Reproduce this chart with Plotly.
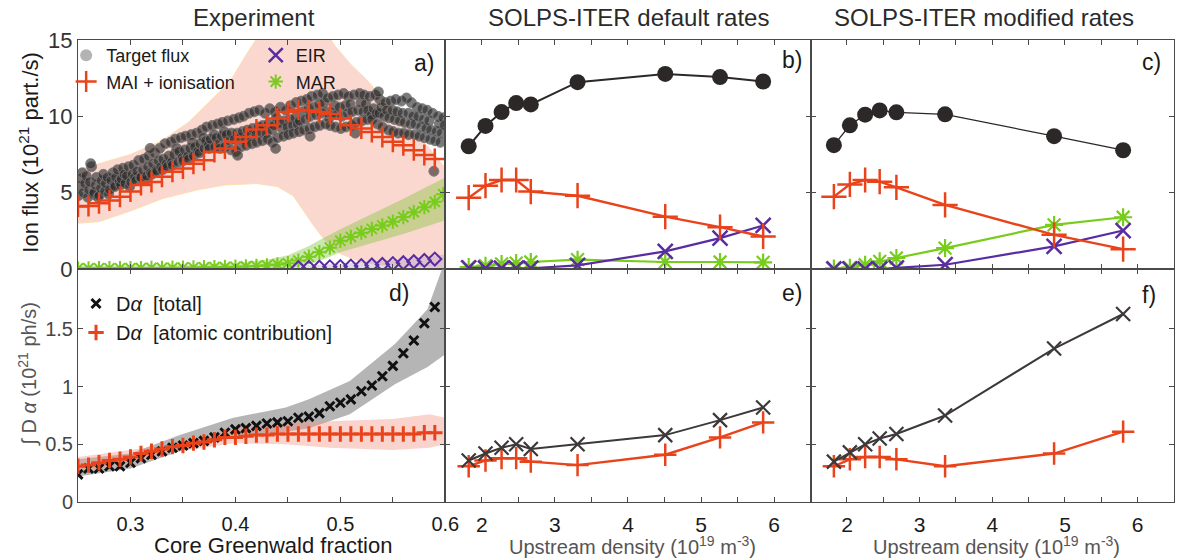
import plotly.graph_objects as go
from plotly.subplots import make_subplots

# ---------------- data ----------------
# Panel a (experiment, ion flux in 1e21 part/s) vs core Greenwald fraction
exp_x = [0.25, 0.26, 0.27, 0.28, 0.29, 0.30, 0.31, 0.32, 0.33, 0.34, 0.35, 0.36,
         0.37, 0.38, 0.39, 0.40, 0.41, 0.42, 0.43, 0.44, 0.45, 0.46, 0.47, 0.48,
         0.49, 0.50, 0.51, 0.52, 0.53, 0.54, 0.55, 0.56, 0.57, 0.58, 0.59]
mai_ion = [4.09, 4.13, 4.30, 4.48, 4.74, 5.07, 5.50, 5.70, 6.04, 6.37, 6.59, 6.90,
           7.13, 7.67, 7.90, 8.33, 8.65, 9.13, 9.41, 9.85, 10.28, 10.43, 10.39, 10.28,
           10.15, 9.85, 9.41, 9.20, 8.98, 8.65, 8.33, 8.10, 7.78, 7.46, 7.20]
mar_x = [0.25, 0.26, 0.27, 0.28, 0.29, 0.30, 0.31, 0.32, 0.33, 0.34, 0.35, 0.36,
         0.37, 0.38, 0.39, 0.40, 0.41, 0.42, 0.43, 0.44, 0.45, 0.46, 0.47, 0.48,
         0.49, 0.50, 0.51, 0.52, 0.53, 0.54, 0.55, 0.56, 0.57, 0.58, 0.59, 0.598]
mar_exp = [0.04, 0.04, 0.05, 0.05, 0.05, 0.06, 0.06, 0.07, 0.07, 0.08, 0.09, 0.10,
           0.11, 0.12, 0.13, 0.15, 0.17, 0.20, 0.24, 0.30, 0.38, 0.55, 0.80, 1.10,
           1.40, 1.85, 2.10, 2.38, 2.62, 2.85, 3.10, 3.40, 3.72, 4.05, 4.40, 4.90]
eir_x = [0.46, 0.47, 0.48, 0.49, 0.50, 0.51, 0.52, 0.53, 0.54, 0.55, 0.56, 0.57, 0.58, 0.59]
eir_exp = [0.08, 0.10, 0.12, 0.14, 0.16, 0.19, 0.22, 0.26, 0.30, 0.35, 0.41, 0.48, 0.56, 0.65]

# uncertainty bands, panel a
mai_band_up_x = [0.25, 0.27, 0.30, 0.33, 0.355, 0.37, 0.38, 0.395, 0.41, 0.425, 0.44,
                 0.46, 0.48, 0.495, 0.51, 0.525, 0.54, 0.555, 0.57, 0.585, 0.60]
mai_band_up = [6.5, 6.9, 7.5, 8.4, 9.6, 10.6, 11.3, 12.3, 14.0, 15.6, 16.5,
               16.8, 16.2, 14.6, 13.4, 12.4, 11.2, 10.2, 9.0, 7.9, 6.6]
mai_band_lo_x = [0.25, 0.27, 0.30, 0.33, 0.365, 0.39, 0.42, 0.44, 0.455, 0.465,
                 0.475, 0.485, 0.50, 0.52, 0.55, 0.60]
mai_band_lo = [3.0, 3.1, 3.8, 4.6, 5.2, 5.5, 5.6, 5.4, 4.8, 3.8,
               2.8, 1.9, 1.0, 0.45, 0.2, 0.1]
mar_band_x = [0.25, 0.35, 0.40, 0.43, 0.45, 0.47, 0.483, 0.50, 0.53, 0.56, 0.60]
mar_band_up = [0.20, 0.25, 0.40, 0.60, 0.90, 1.50, 2.00, 2.60, 3.60, 4.60, 6.00]
mar_band_lo = [0.00, 0.00, 0.00, 0.00, 0.05, 0.30, 0.60, 1.10, 1.70, 2.30, 3.20]
eir_band_x = [0.45, 0.50, 0.55, 0.60]
eir_band_up = [0.20, 0.35, 0.60, 0.95]
eir_band_lo = [0.0, 0.0, 0.0, 0.0]

# target flux (experimental scatter)
target_x = [
    0.2502, 0.2514, 0.2527, 0.2541, 0.2551, 0.2566, 0.2578, 0.2593, 0.2604, 0.2612, 0.2629, 0.2645,
    0.2653, 0.2668, 0.2676, 0.2690, 0.2701, 0.2717, 0.2724, 0.2741, 0.2756, 0.2763, 0.2779, 0.2792,
    0.2803, 0.2815, 0.2832, 0.2846, 0.2852, 0.2861, 0.2877, 0.2894, 0.2907, 0.2913, 0.2928, 0.2940,
    0.2950, 0.2964, 0.2981, 0.2993, 0.3004, 0.3019, 0.3026, 0.3042, 0.3053, 0.3062, 0.3078, 0.3091,
    0.3101, 0.3118, 0.3127, 0.3143, 0.3155, 0.3166, 0.3174, 0.3192, 0.3203, 0.3214, 0.3231, 0.3245,
    0.3252, 0.3267, 0.3279, 0.3290, 0.3306, 0.3311, 0.3328, 0.3344, 0.3351, 0.3365, 0.3382, 0.3393,
    0.3400, 0.3416, 0.3425, 0.3441, 0.3457, 0.3463, 0.3479, 0.3494, 0.3502, 0.3517, 0.3523, 0.3546,
    0.3554, 0.3568, 0.3577, 0.3591, 0.3601, 0.3613, 0.3629, 0.3642, 0.3656, 0.3664, 0.3681, 0.3695,
    0.3703, 0.3719, 0.3725, 0.3743, 0.3751, 0.3762, 0.3778, 0.3796, 0.3805, 0.3818, 0.3830, 0.3841,
    0.3853, 0.3869, 0.3874, 0.3892, 0.3900, 0.3915, 0.3927, 0.3944, 0.3958, 0.3961, 0.3983, 0.3990,
    0.4004, 0.4016, 0.4032, 0.4045, 0.4051, 0.4068, 0.4076, 0.4093, 0.4102, 0.4114, 0.4129, 0.4140,
    0.4155, 0.4163, 0.4178, 0.4197, 0.4201, 0.4219, 0.4226, 0.4242, 0.4254, 0.4260, 0.4281, 0.4293,
    0.4306, 0.4313, 0.4327, 0.4348, 0.4352, 0.4367, 0.4375, 0.4391, 0.4400, 0.4418, 0.4429, 0.4446,
    0.4457, 0.4462, 0.4480, 0.4494, 0.4503, 0.4515, 0.4524, 0.4547, 0.4551, 0.4569, 0.4577, 0.4590,
    0.4606, 0.4611, 0.4628, 0.4643, 0.4652, 0.4667, 0.4679, 0.4695, 0.4705, 0.4712, 0.4726, 0.4741,
    0.4753, 0.4768, 0.4781, 0.4797, 0.4802, 0.4817, 0.4830, 0.4844, 0.4856, 0.4863, 0.4879, 0.4892,
    0.4901, 0.4916, 0.4928, 0.4945, 0.4953, 0.4965, 0.4977, 0.4991, 0.5004, 0.5013, 0.5031, 0.5046,
    0.5052, 0.5068, 0.5074, 0.5093, 0.5107, 0.5111, 0.5129, 0.5142, 0.5150, 0.5166, 0.5183, 0.5195,
    0.5203, 0.5218, 0.5225, 0.5240, 0.5256, 0.5262, 0.5278, 0.5297, 0.5301, 0.5315, 0.5332, 0.5344,
    0.5353, 0.5369, 0.5376, 0.5390, 0.5400, 0.5417, 0.5428, 0.5443, 0.5458, 0.5464, 0.5479, 0.5496,
    0.5502, 0.5516, 0.5527, 0.5541, 0.5551, 0.5565, 0.5582, 0.5590, 0.5604, 0.5612, 0.5630, 0.5647,
    0.5650, 0.5668, 0.5676, 0.5693, 0.5707, 0.5713, 0.5729, 0.5742, 0.5752, 0.5767, 0.5780, 0.5794,
    0.5801, 0.5818, 0.5826, 0.5845, 0.5855, 0.5862, 0.5877, 0.5891, 0.5902, 0.5916, 0.5929, 0.5943,
    0.5953, 0.5964, 0.5981, 0.5992, 0.2621, 0.4383, 0.4021, 0.3188, 0.5362, 0.4712,
]
target_y = [
    4.8, 5.4, 5.9, 6.3, 5.0, 5.6, 6.1, 4.7, 5.2, 5.7, 6.7, 4.9,
    5.0, 5.5, 6.0, 4.7, 4.8, 5.3, 5.8, 6.2, 5.1, 5.6, 6.0, 4.9,
    5.2, 5.8, 6.3, 5.5, 5.4, 6.0, 6.5, 5.7, 5.5, 5.9, 6.6, 6.2,
    5.6, 6.1, 6.7, 5.4, 5.7, 6.2, 6.8, 6.0, 5.8, 6.4, 7.1, 6.0,
    6.0, 6.5, 7.2, 5.8, 6.1, 6.7, 7.4, 6.3, 6.2, 6.9, 7.6, 6.5,
    6.4, 7.1, 7.9, 6.7, 6.5, 7.2, 8.2, 6.9, 6.7, 7.4, 8.3, 7.0,
    6.8, 7.5, 8.5, 7.9, 7.0, 7.7, 8.6, 7.3, 7.1, 7.8, 8.7, 7.4,
    7.2, 7.9, 8.8, 8.3, 7.4, 8.0, 8.9, 7.7, 7.6, 8.2, 9.1, 8.6,
    7.9, 8.4, 9.3, 8.1, 7.9, 8.5, 9.4, 8.8, 8.0, 8.6, 9.5, 8.2,
    7.9, 8.7, 9.6, 9.0, 8.0, 8.8, 9.7, 8.4, 7.8, 8.9, 9.8, 8.5,
    7.7, 8.9, 9.9, 8.6, 8.0, 9.0, 10.0, 8.5, 8.1, 9.1, 10.2, 8.7,
    8.2, 9.2, 10.3, 8.8, 8.3, 9.3, 10.4, 9.0, 8.4, 9.4, 10.2, 8.9,
    8.5, 9.5, 10.5, 9.1, 8.3, 9.4, 10.3, 9.9, 8.6, 9.6, 10.6, 9.2,
    8.7, 9.7, 10.4, 9.3, 8.8, 9.8, 10.7, 9.4, 8.9, 9.9, 10.9, 9.5,
    9.0, 9.7, 11.0, 10.3, 9.1, 9.8, 11.1, 10.5, 9.2, 10.0, 11.3, 10.6,
    9.3, 10.1, 11.4, 10.8, 9.4, 10.2, 11.5, 10.9, 9.5, 10.3, 11.2, 9.9,
    9.4, 10.2, 11.3, 10.7, 9.3, 10.1, 11.4, 10.6, 9.2, 10.0, 11.5, 10.7,
    9.3, 10.2, 11.3, 10.8, 9.4, 10.3, 11.4, 8.9, 9.6, 10.4, 11.5, 10.9,
    9.7, 10.3, 11.4, 10.8, 9.8, 10.4, 11.3, 10.1, 9.8, 10.5, 11.4, 10.2,
    9.5, 10.2, 11.1, 10.6, 9.3, 10.0, 10.9, 10.4, 9.1, 9.9, 11.0, 10.4,
    9.0, 9.8, 11.1, 10.3, 8.9, 9.7, 11.0, 10.2, 8.9, 9.6, 11.2, 10.2,
    8.8, 9.5, 10.9, 10.0, 8.8, 9.5, 10.6, 10.0, 8.7, 9.3, 10.5, 9.8,
    8.6, 9.2, 10.4, 9.7, 8.5, 9.1, 10.2, 6.4, 8.4, 9.0, 10.0, 9.5,
    8.3, 8.9, 9.9, 9.4, 6.9, 7.9, 7.45, 7.9, 11.6, 8.7,
]

# Panel d (experiment, integrated D-alpha in 1e21 ph/s)
da_total = [0.24, 0.29, 0.29, 0.31, 0.31, 0.34, 0.38, 0.41, 0.44, 0.47, 0.49, 0.51,
            0.53, 0.56, 0.60, 0.63, 0.64, 0.66, 0.68, 0.69, 0.70, 0.73, 0.74, 0.77,
            0.83, 0.86, 0.89, 0.96, 1.01, 1.09, 1.18, 1.29, 1.40, 1.55, 1.69]
da_atomic = [0.31, 0.32, 0.34, 0.36, 0.37, 0.39, 0.42, 0.44, 0.46, 0.48, 0.49, 0.51,
             0.52, 0.54, 0.56, 0.56, 0.57, 0.58, 0.58, 0.59, 0.59, 0.59, 0.59, 0.59,
             0.59, 0.59, 0.59, 0.59, 0.59, 0.59, 0.59, 0.59, 0.59, 0.60, 0.60]
da_total_band_x = [0.25, 0.30, 0.347, 0.398, 0.448, 0.47, 0.509, 0.552, 0.583, 0.60]
da_total_band_up = [0.37, 0.42, 0.58, 0.73, 0.82, 0.89, 1.05, 1.37, 1.67, 2.10]
da_total_band_lo = [0.22, 0.29, 0.44, 0.56, 0.61, 0.64, 0.76, 1.02, 1.17, 1.28]
da_atom_band_x = [0.25, 0.347, 0.398, 0.448, 0.49, 0.55, 0.585, 0.60]
da_atom_band_up = [0.39, 0.51, 0.64, 0.69, 0.70, 0.72, 0.76, 0.73]
da_atom_band_lo = [0.26, 0.44, 0.51, 0.50, 0.47, 0.45, 0.47, 0.50]

# Panels b / e (SOLPS-ITER default rates) vs upstream density (1e19 m^-3)
def_ne = [1.82, 2.05, 2.27, 2.47, 2.67, 3.31, 4.51, 5.26, 5.85]
def_target = [8.04, 9.37, 10.28, 10.87, 10.78, 12.24, 12.78, 12.57, 12.28]
def_mai = [4.67, 5.46, 5.83, 5.83, 5.07, 4.80, 3.43, 2.74, 2.13]
def_eir = [0.07, 0.05, 0.05, 0.05, 0.05, 0.24, 1.15, 2.02, 2.85]
def_mar = [0.13, 0.22, 0.33, 0.39, 0.46, 0.61, 0.46, 0.46, 0.43]
def_da_total = [0.36, 0.42, 0.47, 0.50, 0.46, 0.50, 0.58, 0.71, 0.82]
def_da_atomic = [0.31, 0.36, 0.38, 0.38, 0.35, 0.32, 0.41, 0.56, 0.69]

# Panels c / f (SOLPS-ITER modified rates)
mod_ne = [1.82, 2.04, 2.25, 2.45, 2.68, 3.35, 4.85, 5.80]
mod_target = [8.11, 9.41, 10.11, 10.39, 10.26, 10.13, 8.70, 7.78]
mod_mai = [4.74, 5.54, 5.83, 5.72, 5.35, 4.20, 2.24, 1.30]
mod_eir = [0.00, 0.00, 0.00, 0.00, 0.07, 0.28, 1.48, 2.52]
mod_mar = [0.04, 0.09, 0.28, 0.50, 0.72, 1.37, 2.89, 3.39]
mod_da_total = [0.35, 0.43, 0.50, 0.55, 0.59, 0.75, 1.33, 1.63]
mod_da_atomic = [0.31, 0.37, 0.39, 0.39, 0.37, 0.31, 0.42, 0.61]

# ticks
gw_tickvals = [0.3, 0.4, 0.5, 0.6]
gw_ticktext = ['0.3', '0.4', '0.5', '0.6']
gw_minor = [0.25, 0.35, 0.45, 0.55]
ne_tickvals = [2, 3, 4, 5, 6]
ne_ticktext = ['2', '3', '4', '5', '6']
ne_minor = [1.5, 2.5, 3.5, 4.5, 5.5, 6.5]
flux_tickvals = [0, 5, 10, 15]
flux_ticktext = ['0', '5', '10', '15']
da_tickvals = [0, 0.5, 1, 1.5]
da_ticktext = ['0', '0.5', '1', '1.5']

# ---------------- style ----------------
RED = '#e9431b'
PURPLE = '#5a2ca2'
GREEN = '#78cc1c'
BLACK = '#2c2828'
DGRAY = '#3e3939'
FONT = 'Liberation Sans, Arial, sans-serif'
NARROW = 'Liberation Sans Narrow, Arial Narrow, Liberation Sans, Arial, sans-serif'

W, H = 1189, 560
ML, MT = 78, 40
PW, PH = 1110, 462
MR = W - ML - PW
MB = H - MT - PH


def fx(px):
    return (px - ML) / PW


def fy(py):
    return (H - MB - py) / PH


fig = make_subplots(rows=2, cols=3, horizontal_spacing=0, vertical_spacing=0)


def band(xu, yu, xl, yl, color, row, col, line=None):
    fig.add_trace(go.Scatter(
        x=list(xu) + list(xl)[::-1], y=list(yu) + list(yl)[::-1],
        mode='lines', fill='toself', fillcolor=color,
        line=line if line else dict(width=0, color='rgba(0,0,0,0)'),
        hoverinfo='skip', showlegend=False), row=row, col=col)


# ----- panel a -----
band(mai_band_up_x, mai_band_up, mai_band_lo_x, mai_band_lo,
     'rgba(247,178,160,0.50)', 1, 1, line=dict(width=1, color='rgba(252,222,170,0.9)'))
band(mar_band_x, mar_band_up, mar_band_x, mar_band_lo, 'rgba(125,195,50,0.40)', 1, 1)
band(eir_band_x, eir_band_up, eir_band_x, eir_band_lo, 'rgba(165,150,205,0.35)', 1, 1)

fig.add_trace(go.Scatter(
    x=target_x, y=target_y, mode='markers', showlegend=False,
    marker=dict(symbol='circle', size=10, color='rgba(42,40,40,0.62)',
                line=dict(width=1, color='rgba(120,120,120,0.9)'))), row=1, col=1)
fig.add_trace(go.Scatter(
    x=[None], y=[None], mode='markers', name='Target flux', legend='legend',
    marker=dict(symbol='circle', size=12, color='#b3b3b3')), row=1, col=1)
fig.add_trace(go.Scatter(
    x=exp_x, y=mai_ion, mode='markers', name='MAI + ionisation', legend='legend',
    marker=dict(symbol='cross-thin', size=15, color=RED, line=dict(width=2.5, color=RED))),
    row=1, col=1)
fig.add_trace(go.Scatter(
    x=[None], y=[None], mode='markers', name='EIR', legend='legend2',
    marker=dict(symbol='x-thin', size=14, color=PURPLE, line=dict(width=2.5, color=PURPLE))),
    row=1, col=1)
fig.add_trace(go.Scatter(
    x=mar_x, y=mar_exp, mode='markers', name='MAR', legend='legend2',
    marker=dict(symbol='asterisk', size=12, color=GREEN, line=dict(width=2, color=GREEN))),
    row=1, col=1)
fig.add_trace(go.Scatter(
    x=eir_x, y=eir_exp, mode='markers', showlegend=False,
    marker=dict(symbol='diamond-open', size=10, color=PURPLE, line=dict(width=2, color=PURPLE))),
    row=1, col=1)


# ----- panels b, c -----
def sim_flux(ne, tgt, mai, eir, mar, col, black_w):
    fig.add_trace(go.Scatter(
        x=ne, y=mar, mode='lines+markers', showlegend=False,
        line=dict(color=GREEN, width=2.2),
        marker=dict(symbol='asterisk', size=15, color=GREEN, line=dict(width=2.2, color=GREEN))),
        row=1, col=col)
    fig.add_trace(go.Scatter(
        x=ne, y=eir, mode='lines+markers', showlegend=False,
        line=dict(color=PURPLE, width=2.2),
        marker=dict(symbol='x-thin', size=15, color=PURPLE, line=dict(width=2.5, color=PURPLE))),
        row=1, col=col)
    fig.add_trace(go.Scatter(
        x=ne, y=mai, mode='lines+markers', showlegend=False,
        line=dict(color=RED, width=2.4),
        marker=dict(symbol='cross-thin', size=18, color=RED, line=dict(width=2.5, color=RED))),
        row=1, col=col)
    fig.add_trace(go.Scatter(
        x=ne, y=tgt, mode='lines+markers', showlegend=False,
        line=dict(color=BLACK, width=black_w),
        marker=dict(symbol='circle', size=16, color=BLACK)),
        row=1, col=col)


sim_flux(def_ne, def_target, def_mai, def_eir, def_mar, 2, 2.0)
sim_flux(mod_ne, mod_target, mod_mai, mod_eir, mod_mar, 3, 1.3)

# ----- panel d -----
band(da_total_band_x, da_total_band_up, da_total_band_x, da_total_band_lo,
     'rgba(150,150,150,0.70)', 2, 1)
band(da_atom_band_x, da_atom_band_up, da_atom_band_x, da_atom_band_lo,
     'rgba(244,150,135,0.42)', 2, 1)
fig.add_trace(go.Scatter(
    x=exp_x, y=da_total, mode='markers', name='D<i>α</i>  [total]', legend='legend3',
    marker=dict(symbol='x-thin', size=9, color='#111111', line=dict(width=3, color='#111111'))),
    row=2, col=1)
fig.add_trace(go.Scatter(
    x=exp_x, y=da_atomic, mode='markers', name='D<i>α</i>  [atomic contribution]',
    legend='legend3',
    marker=dict(symbol='cross-thin', size=11, color=RED, line=dict(width=3, color=RED))),
    row=2, col=1)


# ----- panels e, f -----
def sim_da(ne, tot, atom, col):
    fig.add_trace(go.Scatter(
        x=ne, y=atom, mode='lines+markers', showlegend=False,
        line=dict(color=RED, width=2.4),
        marker=dict(symbol='cross-thin', size=16, color=RED, line=dict(width=2.5, color=RED))),
        row=2, col=col)
    fig.add_trace(go.Scatter(
        x=ne, y=tot, mode='lines+markers', showlegend=False,
        line=dict(color=DGRAY, width=2.0),
        marker=dict(symbol='x-thin', size=14, color=DGRAY, line=dict(width=2.2, color=DGRAY))),
        row=2, col=col)


sim_da(def_ne, def_da_total, def_da_atomic, 2)
sim_da(mod_ne, mod_da_total, mod_da_atomic, 3)

# ---------------- axes ----------------
xd = [[0, 372 / PW], [372 / PW, 742 / PW], [742 / PW, 1]]
ysplit = (502 - 269) / PH
yd_top = [ysplit, 1]
yd_bot = [0, ysplit]

TCOL = '#4a4a4a'
axc = dict(showline=True, linecolor=TCOL, linewidth=1, mirror='allticks',
           ticks='inside', ticklen=5, tickcolor=TCOL, tickwidth=1,
           showgrid=False, zeroline=False)

lay = {}
for i in range(6):
    r, c = divmod(i, 3)
    n = '' if i == 0 else str(i + 1)
    xa = dict(axc, domain=xd[c])
    ya = dict(axc, domain=yd_top if r == 0 else yd_bot)
    if c == 0:
        xa.update(range=[0.25, 0.6], tickmode='array', tickvals=gw_tickvals, ticktext=gw_ticktext,
                  minor=dict(tickmode='array', tickvals=gw_minor, ticks='inside', ticklen=5,
                             tickcolor=TCOL, showgrid=False))
    else:
        xa.update(range=[1.5, 6.5], tickmode='array', tickvals=ne_tickvals, ticktext=ne_ticktext,
                  minor=dict(tickmode='array', tickvals=ne_minor, ticks='inside', ticklen=5,
                             tickcolor=TCOL, showgrid=False))
    if r == 0:
        xa.update(showticklabels=False)
        ya.update(range=[0, 15], tickmode='array', tickvals=flux_tickvals, ticktext=flux_ticktext)
    else:
        ya.update(range=[0, 2.02], tickmode='array', tickvals=da_tickvals, ticktext=da_ticktext)
        if c == 0:
            xa.update(tickfont=dict(family=FONT, size=20, color='#1a1a1a'), ticklabelstandoff=4)
        else:
            xa.update(tickfont=dict(family=NARROW, size=21, color='#1a1a1a'), ticklabelstandoff=4)
    if c == 0:
        if r == 0:
            ya.update(tickfont=dict(family=FONT, size=22, color='#333333'))
        else:
            ya.update(tickfont=dict(family=FONT, size=20, color='#444444'))
    else:
        ya.update(showticklabels=False)
    lay['xaxis' + n] = xa
    lay['yaxis' + n] = ya

fig.update_layout(**lay)

# ---------------- text ----------------
ann = []


def text(s, px, py, size, color='#222222', family=FONT, angle=0, xanchor='center'):
    ann.append(dict(text=s, x=fx(px), y=fy(py), xref='paper', yref='paper',
                    xanchor=xanchor, yanchor='middle', showarrow=False, textangle=angle,
                    font=dict(family=family, size=size, color=color)))


text('Experiment', 256, 17, 24, '#2a2a2a')
text('SOLPS-ITER default rates', 636, 18, 24, '#2a2a2a')
text('SOLPS-ITER modified rates', 996, 18, 24, '#2a2a2a')
text('Ion flux (10<sup>21</sup> part./s)', 28, 152, 22, '#1a1a1a', angle=-90)
text('∫ D <i>α</i> (10<sup>21</sup> ph/s)', 27, 374, 20, '#555555', angle=-90)
text('Core Greenwald fraction', 275, 545, 22, '#1a1a1a')
text('Upstream density (10<sup>19</sup> m<sup>-3</sup>)', 640, 545, 20, '#555555', family=NARROW)
text('Upstream density (10<sup>19</sup> m<sup>-3</sup>)', 1008, 545, 20, '#555555', family=NARROW)
for lab, px, py in [('a)', 428, 63), ('b)', 801, 60), ('c)', 1165, 62),
                    ('d)', 403, 293), ('e)', 801, 293), ('f)', 1163, 295)]:
    text(lab, px, py, 23, '#1a1a1a')

fig.update_layout(
    annotations=ann,
    width=W, height=H,
    margin=dict(l=ML, r=MR, t=MT, b=MB),
    paper_bgcolor='white', plot_bgcolor='white',
    font=dict(family=FONT, color='#222222'),
    legend=dict(x=fx(66), y=fy(37), xanchor='left', yanchor='top',
                bgcolor='rgba(0,0,0,0)', font=dict(size=18, family=FONT, color='#1a1a1a'),
                itemwidth=30, tracegroupgap=0),
    legend2=dict(x=fx(258), y=fy(37), xanchor='left', yanchor='top',
                 bgcolor='rgba(0,0,0,0)', font=dict(size=18, family=FONT, color='#1a1a1a'),
                 itemwidth=30, tracegroupgap=0),
    legend3=dict(x=fx(76), y=fy(284), xanchor='left', yanchor='top',
                 bgcolor='rgba(0,0,0,0)', font=dict(size=20, family=FONT, color='#1a1a1a'),
                 itemwidth=30, tracegroupgap=0),
    showlegend=True,
)

# the page is shown with no body margin so the figure fills the window exactly
fig.write_html('out.html',
               config={'displayModeBar': False},
               post_script="document.body.style.margin='0';"
                           "document.documentElement.style.overflow='hidden';")
